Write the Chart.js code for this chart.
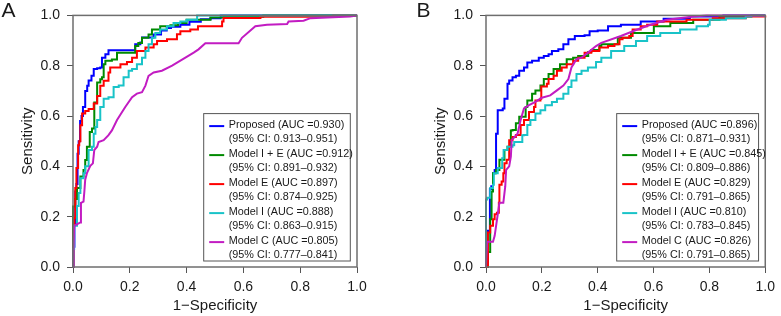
<!DOCTYPE html>
<html><head><meta charset="utf-8">
<script src="https://cdn.jsdelivr.net/npm/chart.js@4.4.0/dist/chart.umd.min.js"></script>
<style>
html,body{margin:0;padding:0;background:#fff;}
#wrap{position:relative;width:781px;height:316px;overflow:hidden;background:#fff;}
#cA{position:absolute;left:0;top:0;}
#cB{position:absolute;left:390px;top:0;}
</style></head><body>
<div id="wrap"><canvas id="cA" width="390" height="316"></canvas><canvas id="cB" width="391" height="316"></canvas></div>
<script>
// ---------- Panel A data (1-Specificity, Sensitivity) ----------
const aProposedX = [0,0,0.005,0.008,0.012,0.016,0.02,0.025,0.03,0.035,0.043,0.05,0.055,0.065,0.073,0.085,0.096,0.102,0.114,0.125,0.208,0.219,0.237,0.243,0.272,0.284,0.31,0.33,0.345,0.378,0.41,0.45,0.484,0.512,0.52,1];
const aProposedY = [0,0.08,0.17,0.3,0.33,0.45,0.5,0.58,0.6,0.636,0.70,0.72,0.741,0.76,0.787,0.79,0.793,0.832,0.846,0.861,0.861,0.885,0.892,0.912,0.912,0.924,0.94,0.95,0.955,0.963,0.975,0.985,0.989,0.989,1.0,1.0];
const aIEX = [0,0,0.008,0.014,0.026,0.037,0.043,0.049,0.059,0.067,0.075,0.085,0.096,0.102,0.108,0.114,0.137,0.155,0.208,0.219,0.23,0.243,0.266,0.278,0.307,0.343,0.37,0.40,0.42,0.484,0.53,0.67,1];
const aIEY = [0,0.24,0.27,0.314,0.36,0.386,0.425,0.478,0.537,0.55,0.654,0.733,0.746,0.754,0.806,0.82,0.825,0.852,0.852,0.878,0.89,0.911,0.924,0.944,0.957,0.961,0.97,0.983,0.983,0.992,0.995,1.0,1.0];
const aEX = [0,0.003,0.005,0.008,0.012,0.018,0.022,0.026,0.032,0.043,0.055,0.073,0.085,0.096,0.108,0.125,0.131,0.167,0.19,0.208,0.225,0.255,0.284,0.296,0.331,0.366,0.378,0.413,0.44,0.52,0.525,0.53,0.66,0.916,1];
const aEY = [0,0.164,0.196,0.314,0.393,0.484,0.50,0.563,0.61,0.62,0.628,0.65,0.68,0.72,0.74,0.773,0.793,0.806,0.815,0.832,0.859,0.872,0.885,0.898,0.905,0.925,0.937,0.944,0.957,0.957,0.976,0.99,0.995,1.0,1.0];
const aIX = [0,0.002,0.004,0.014,0.02,0.026,0.037,0.043,0.055,0.067,0.073,0.079,0.085,0.096,0.108,0.125,0.143,0.161,0.178,0.196,0.208,0.225,0.243,0.255,0.266,0.278,0.29,0.307,0.331,0.354,0.378,0.40,0.43,0.437,1];
const aIY = [0,0.072,0.164,0.242,0.294,0.353,0.373,0.40,0.465,0.478,0.53,0.556,0.584,0.636,0.669,0.675,0.715,0.721,0.754,0.78,0.787,0.806,0.832,0.859,0.885,0.911,0.93,0.944,0.957,0.97,0.976,0.983,0.983,1.0,1.0];
const aCX = [0,0.002,0.004,0.015,0.026,0.028,0.037,0.04,0.043,0.049,0.061,0.07,0.075,0.085,0.09,0.108,0.125,0.137,0.155,0.184,0.208,0.225,0.243,0.255,0.266,0.284,0.313,0.349,0.425,0.442,0.466,0.583,0.595,0.642,0.683,0.754,0.759,0.812,0.836,0.976,1];
const aCY = [0,0.07,0.164,0.17,0.177,0.255,0.26,0.30,0.347,0.373,0.402,0.412,0.465,0.478,0.497,0.504,0.524,0.543,0.584,0.636,0.675,0.689,0.695,0.721,0.76,0.773,0.78,0.80,0.852,0.865,0.889,0.889,0.911,0.957,0.963,0.966,0.976,0.979,0.989,0.996,1.0];

// ---------- Panel B data ----------
const bProposedX = [0,0.004,0.007,0.014,0.014,0.019,0.025,0.031,0.036,0.042,0.06,0.066,0.077,0.083,0.095,0.107,0.119,0.136,0.148,0.165,0.189,0.207,0.224,0.236,0.259,0.277,0.295,0.318,0.353,0.371,0.40,0.437,0.483,0.554,0.636,0.73,0.85,1];
const bProposedY = [0,0.105,0.144,0.19,0.31,0.321,0.373,0.386,0.53,0.623,0.63,0.669,0.728,0.741,0.754,0.76,0.78,0.793,0.813,0.82,0.832,0.839,0.846,0.859,0.865,0.885,0.905,0.918,0.921,0.937,0.94,0.957,0.963,0.976,0.987,0.996,1.0,1.0];
const bIEX = [0,0.007,0.015,0.015,0.02,0.025,0.036,0.048,0.066,0.077,0.089,0.095,0.107,0.119,0.142,0.148,0.165,0.177,0.195,0.207,0.224,0.242,0.265,0.289,0.312,0.33,0.366,0.377,0.406,0.413,0.472,0.519,0.601,0.66,0.742,0.836,0.95,1];
const bIEY = [0,0.06,0.06,0.19,0.30,0.373,0.386,0.426,0.465,0.478,0.543,0.545,0.571,0.597,0.636,0.662,0.689,0.702,0.721,0.747,0.767,0.787,0.806,0.826,0.832,0.839,0.855,0.862,0.878,0.885,0.911,0.93,0.957,0.97,0.983,0.996,1.0,1.0];
const bEX = [0,0.004,0.007,0.015,0.025,0.031,0.039,0.046,0.048,0.056,0.062,0.066,0.074,0.083,0.095,0.107,0.124,0.136,0.154,0.172,0.177,0.195,0.198,0.218,0.224,0.242,0.254,0.271,0.289,0.312,0.33,0.353,0.377,0.406,0.437,0.46,0.478,0.489,0.513,0.525,0.554,0.577,0.613,0.718,0.812,0.93,1];
const bEY = [0,0.007,0.137,0.164,0.19,0.21,0.216,0.255,0.327,0.34,0.373,0.412,0.426,0.504,0.517,0.525,0.564,0.584,0.616,0.636,0.662,0.669,0.717,0.728,0.747,0.76,0.78,0.793,0.806,0.82,0.832,0.852,0.859,0.872,0.878,0.885,0.905,0.911,0.918,0.944,0.957,0.963,0.976,0.983,0.989,0.996,1.0];
const bIX = [0,0,0.004,0.015,0.025,0.028,0.042,0.058,0.063,0.077,0.095,0.101,0.13,0.136,0.148,0.159,0.177,0.195,0.212,0.236,0.254,0.277,0.295,0.306,0.324,0.342,0.365,0.394,0.413,0.448,0.495,0.537,0.577,0.624,0.695,0.754,0.795,0.801,0.859,0.93,0.95,1];
const bIY = [0,0.268,0.275,0.314,0.327,0.373,0.393,0.432,0.465,0.478,0.484,0.497,0.524,0.525,0.564,0.584,0.61,0.623,0.643,0.656,0.669,0.689,0.715,0.741,0.767,0.78,0.793,0.815,0.832,0.859,0.878,0.898,0.918,0.93,0.944,0.957,0.963,0.983,0.989,0.996,1.0,1.0];
const bCX = [0,0.004,0.007,0.025,0.031,0.048,0.062,0.069,0.072,0.083,0.089,0.092,0.113,0.124,0.136,0.154,0.177,0.2,0.23,0.254,0.277,0.295,0.306,0.324,0.342,0.365,0.394,0.413,0.483,0.542,0.589,0.648,0.742,0.79,1];
const bCY = [0,0.1,0.1,0.1,0.124,0.255,0.255,0.321,0.386,0.40,0.439,0.504,0.53,0.584,0.63,0.643,0.656,0.673,0.682,0.702,0.721,0.747,0.793,0.826,0.832,0.852,0.878,0.891,0.918,0.944,0.963,0.983,0.996,1.0,1.0];

// ---------- Labels ----------
const seriesNames = ['Proposed', 'Model I + E', 'Model E', 'Model I', 'Model C'];
const aucA = ['0.930', '0.912', '0.897', '0.888', '0.805'];
const ciA = ['0.913\u20130.951', '0.891\u20130.932', '0.874\u20130.925', '0.863\u20130.915', '0.777\u20130.841'];
const aucB = ['0.896', '0.845', '0.829', '0.810', '0.826'];
const ciB = ['0.871\u20130.931', '0.809\u20130.886', '0.791\u20130.865', '0.783\u20130.845', '0.791\u20130.865'];
const tickValues = [0, 0.2, 0.4, 0.6, 0.8, 1.0];

const colors = ['#0000ff', '#008a00', '#ff0000', '#19c3c8', '#c21cc2'];
const FONT = "'Liberation Sans', Arial, Helvetica, sans-serif";

function pts(xs, ys) { return xs.map((x, i) => ({x: x, y: ys[i]})); }

function makeDatasets(list) {
  return list.map((s, i) => ({
    label: seriesNames[i],
    data: pts(s[0], s[1]),
    borderColor: colors[i],
    backgroundColor: colors[i],
    borderWidth: 2,
    pointRadius: 0,
    fill: false,
    tension: 0,
    stepped: i === 4 ? false : 'before',
    order: 5 - i,
    clip: 4
  }));
}

const framePlugin = {
  id: 'frame',
  afterDatasetsDraw(chart, args, opts) {
    const ctx = chart.ctx, a = chart.chartArea;
    ctx.save();
    ctx.strokeStyle = '#6e6e6e';
    ctx.lineWidth = 1.5;
    ctx.strokeRect(a.left, a.top, a.right - a.left, a.bottom - a.top);
    // legend box
    const bl = a.left + 130.7, br = a.right - 6.7, bt = a.bottom - 153.4, bb = a.bottom - 6;
    ctx.fillStyle = '#fff';
    ctx.fillRect(bl, bt, br - bl, bb - bt);
    ctx.strokeStyle = '#555';
    ctx.lineWidth = 1;
    ctx.strokeRect(bl, bt, br - bl, bb - bt);
    ctx.font = '10.8px ' + FONT;
    ctx.textBaseline = 'middle';
    ctx.textAlign = 'left';
    for (let i = 0; i < 5; i++) {
      const y1 = bt + 11 + (2 * i) * 14.5;
      const y2 = y1 + 14.5;
      ctx.strokeStyle = colors[i];
      ctx.lineWidth = 2;
      ctx.beginPath();
      ctx.moveTo(bl + 5.5, y1 + 1.5);
      ctx.lineTo(bl + 20.5, y1 + 1.5);
      ctx.stroke();
      ctx.fillStyle = '#1a1a1a';
      ctx.fillText(seriesNames[i] + ' (AUC =' + opts.auc[i] + ')', bl + 25, y1);
      ctx.fillText('(95% CI: ' + opts.ci[i] + ')', bl + 25, y2);
    }
    // panel letter
    ctx.font = '21px ' + FONT;
    ctx.textBaseline = 'alphabetic';
    ctx.fillStyle = '#1a1a1a';
    ctx.fillText(opts.letter, opts.letterX, 16.7);
    ctx.restore();
  }
};

function axis(title, isY, fitSize, titlePad) {
  return {
    type: 'linear',
    min: 0, max: 1,
    afterBuildTicks: (s) => { s.ticks = tickValues.map(v => ({value: v})); },
    afterFit: (s) => { if (isY) s.width = fitSize; else s.height = fitSize; },
    ticks: {
      callback: (v) => Number(v).toFixed(1),
      font: {family: FONT, size: 14},
      color: '#1a1a1a',
      padding: isY ? 7 : 6,
      maxRotation: 0,
      autoSkip: false
    },
    grid: {drawOnChartArea: false, drawTicks: true, tickLength: 6, color: '#555', lineWidth: 1},
    border: {display: false},
    title: {
      display: true, text: title,
      font: {family: FONT, size: 15},
      color: '#1a1a1a',
      padding: titlePad
    }
  };
}

function makeChart(id, list, opts, yWidth, rightPad, yTitlePad) {
  return new Chart(document.getElementById(id), {
    type: 'line',
    data: {datasets: makeDatasets(list)},
    options: {
      responsive: false,
      animation: false,
      events: [],
      layout: {padding: {top: 12, right: rightPad, left: 0, bottom: 0}},
      scales: {
        x: axis('1\u2212Specificity', false, 49, {top: 0, bottom: 1}),
        y: axis('Sensitivity', true, yWidth, {top: yTitlePad, bottom: 0})
      },
      plugins: {legend: {display: false}, tooltip: {enabled: false}, frame: opts}
    },
    plugins: [framePlugin]
  });
}

makeChart('cA',
  [[aProposedX, aProposedY], [aIEX, aIEY], [aEX, aEY], [aIX, aIY], [aCX, aCY]],
  {auc: aucA, ci: ciA, letter: 'A', letterX: 1.5}, 73, 33, 18.5);
makeChart('cB',
  [[bProposedX, bProposedY], [bIEX, bIEY], [bEX, bEY], [bIX, bIY], [bCX, bCY]],
  {auc: aucB, ci: ciB, letter: 'B', letterX: 26.5}, 96, 11, 41.8);
</script>
</body></html>
